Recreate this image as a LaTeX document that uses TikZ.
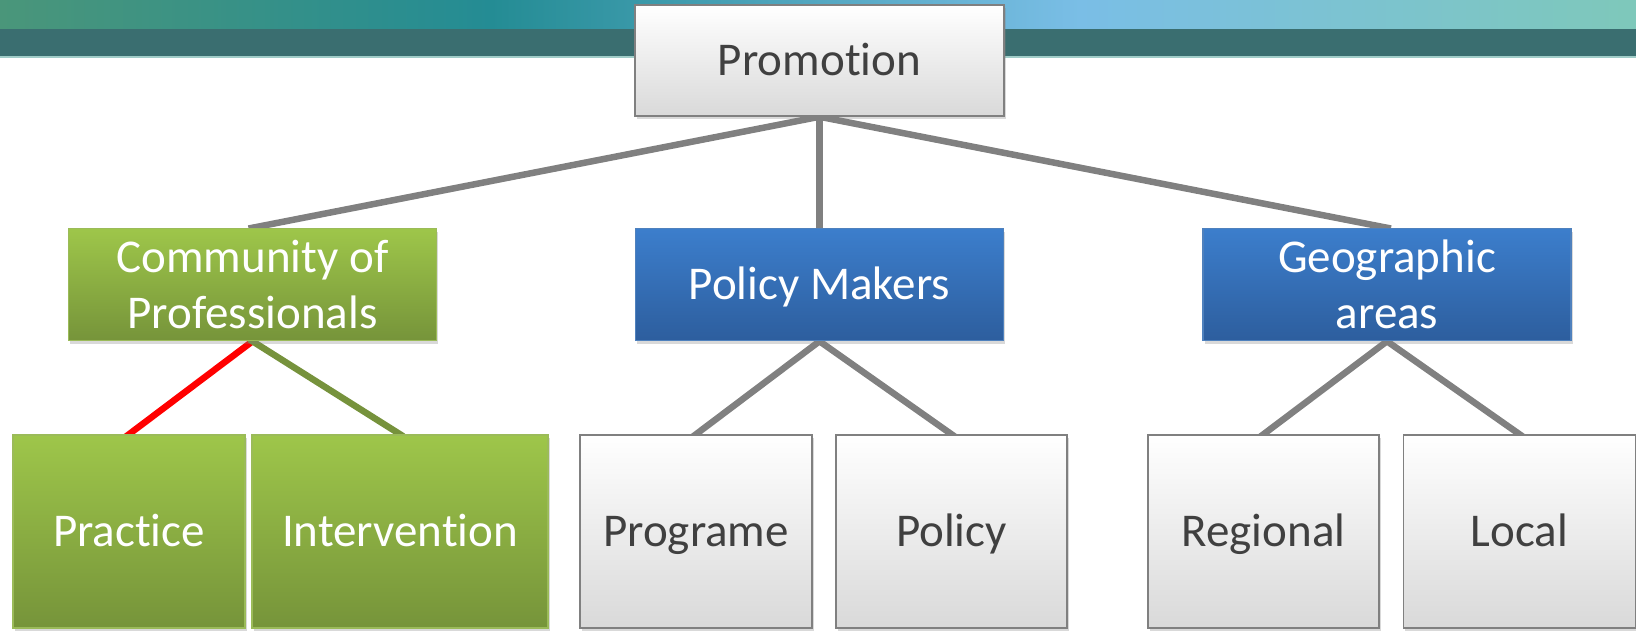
\documentclass[tikz,border=0pt]{standalone}
\usepackage{fontspec}
\setmainfont{Carlito}[Ligatures=NoCommon]
\usetikzlibrary{shadows,backgrounds}
\definecolor{bnA}{RGB}{74,150,122}
\definecolor{bnB}{RGB}{36,140,148}
\definecolor{bnC}{RGB}{122,190,230}
\definecolor{bnD}{RGB}{126,200,186}
\definecolor{bnDark}{RGB}{58,110,112}
\definecolor{bnLine}{RGB}{160,205,200}
\definecolor{boxGrayEdge}{RGB}{128,128,128}
\definecolor{boxGrayBot}{RGB}{217,217,217}
\definecolor{txtGray}{RGB}{64,64,64}
\definecolor{grnEdge}{RGB}{155,187,89}
\definecolor{grnTop}{RGB}{158,198,74}
\definecolor{grnBot}{RGB}{118,148,58}
\definecolor{bluEdge}{RGB}{79,129,189}
\definecolor{bluTop}{RGB}{60,126,204}
\definecolor{bluBot}{RGB}{45,94,158}
\definecolor{connGray}{RGB}{128,128,128}
\definecolor{connRed}{RGB}{255,0,0}
\definecolor{connGreen}{RGB}{118,146,60}
\pgfdeclarehorizontalshading{bannershade}{100bp}{color(0bp)=(bnA); color(25bp)=(bnA); color(40bp)=(bnB); color(58bp)=(bnC); color(75bp)=(bnD); color(100bp)=(bnD)}
\begin{document}
\begin{tikzpicture}[x=1pt,y=-1pt,
  box/.style={draw, line width=1.5pt, rectangle, align=center, inner sep=0pt,
    font=\fontsize{47}{56}\selectfont,
    drop shadow={shadow xshift=1.5pt, shadow yshift=-3pt, opacity=0.3}},
  oneline/.style={text height=40pt, text depth=11pt},
  graybox/.style={box, draw=boxGrayEdge, top color=white, bottom color=boxGrayBot, text=txtGray},
  greenbox/.style={box, draw=grnEdge, top color=grnTop, bottom color=grnBot, text=white},
  bluebox/.style={box, draw=bluEdge, top color=bluTop, bottom color=bluBot, text=white},
  conn/.style={line width=6.5pt, draw=connGray, shorten <=-4pt, shorten >=-4pt},
  topbox/.style={minimum width=368pt, minimum height=112pt},
  leafbox/.style={oneline, minimum width=232pt, minimum height=193pt}
]
\useasboundingbox (0,0) rectangle (1636,630);
% banner
\shade[shading=bannershade] (0,0) rectangle (1636,29);
\fill[bnDark] (0,29) rectangle (1636,56);
\fill[bnLine] (0,56) rectangle (1636,57.5);
% nodes
\node[graybox, oneline, minimum width=369pt, minimum height=111pt] (prom) at (819.5,60.5) {Promotion};
\node[greenbox, topbox] (comm) at (252.5,284.5) {Community of\\Professionals};
\node[bluebox, topbox, oneline] (pm) at (819.5,284.5) {Policy Makers};
\node[bluebox, topbox] (geo) at (1387,284.5) {Geographic\\areas};
\node[greenbox, leafbox] (prac) at (129,531.5) {Practice};
\node[greenbox, leafbox, minimum width=296pt] (int) at (400,531.5) {Intervention};
\node[graybox, leafbox] (prog) at (696,531.5) {Programe};
\node[graybox, leafbox, minimum width=231pt] (pol) at (951.5,531.5) {Policy};
\node[graybox, leafbox, minimum width=231pt] (reg) at (1263.5,531.5) {Regional};
\node[graybox, leafbox] (loc) at (1519.5,531.5) {Local};
% connectors
\begin{scope}[on background layer]
\draw[conn] (prom.south) -- (comm.north);
\draw[conn] (prom.south) -- (pm.north);
\draw[conn] (prom.south) -- (geo.north);
\draw[conn, draw=connRed] (comm.south) -- (prac.north);
\draw[conn, draw=connGreen] (comm.south) -- (int.north);
\draw[conn] (pm.south) -- (prog.north);
\draw[conn] (pm.south) -- (pol.north);
\draw[conn] (geo.south) -- (reg.north);
\draw[conn] (geo.south) -- (loc.north);
\end{scope}
\end{tikzpicture}
\end{document}
